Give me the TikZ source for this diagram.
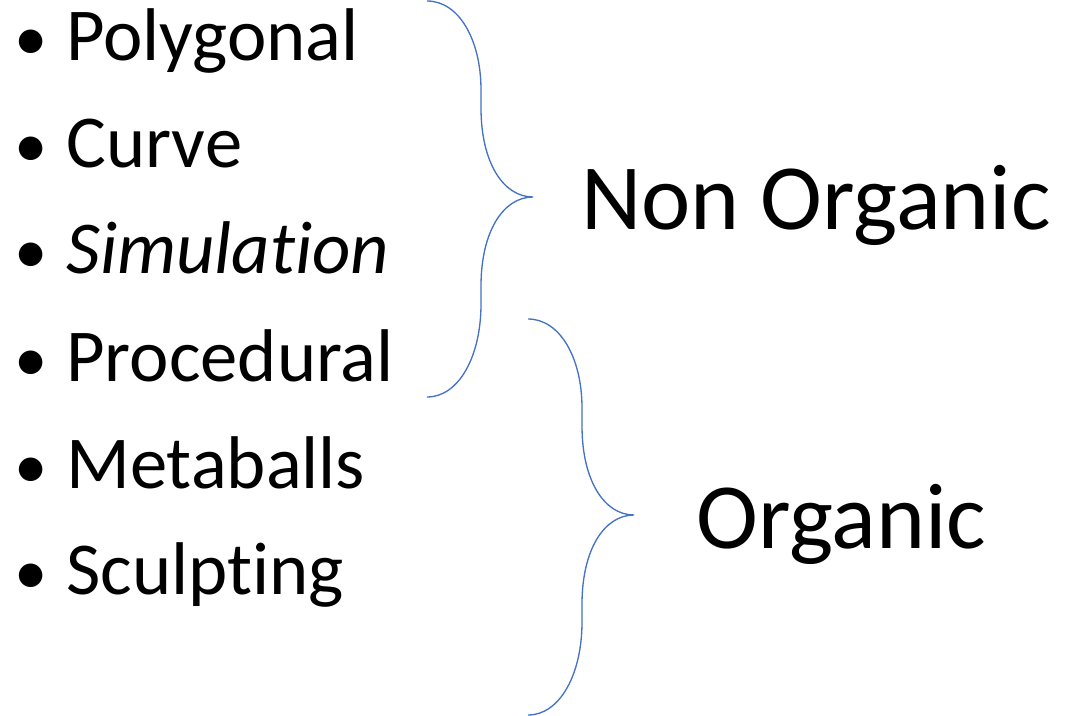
\documentclass[tikz,border=0pt]{standalone}
\usepackage{fontspec}
\setmainfont{Carlito}[Ligatures=NoCommon]
\definecolor{braceblue}{HTML}{4472C4}
\begin{document}
\begin{tikzpicture}[x=0.75pt,y=-0.75pt,
    item/.style={anchor=base west,inner sep=0pt,font=\fontsize{56}{60}\selectfont},
    dot/.style={anchor=base west,inner sep=0pt,font=\fontsize{50}{52}\selectfont},
    label/.style={anchor=base west,inner sep=0pt,font=\fontsize{70}{72}\selectfont},
    curly/.style={color=braceblue,line width=1pt}]
    \useasboundingbox (0,0) rectangle (1069,716);

    % list of techniques
    \foreach \y/\t [count=\i] in {61/Polygonal,168/Curve,274/\textit{Simulation},381/Procedural,488/Metaballs,594/Sculpting} {
        \node[dot] (bul\i) at (14,\y) {•};
        \node[item] (item\i) at (66,\y) {\t};
    }

    % braces
    \foreach \bx/\by/\n in {0/0/non,101/318/org} {
        \draw[curly,shift={(\bx,\by)}] (427,1) .. controls (459,1) and (481,40) .. (481,90)
            -- (481,108) .. controls (481,162) and (503,197) .. (533,197)
            .. controls (503,197) and (481,232) .. (481,286)
            -- (481,304) .. controls (481,356) and (459,397) .. (427,397);
        \coordinate (tip\n) at ([shift={(\bx,\by)}]533,197);
    }

    \node[label] (nonorganic) at (581,230) {Non Organic};
    \node[label] (organic) at (696,548) {Organic};
\end{tikzpicture}
\end{document}
